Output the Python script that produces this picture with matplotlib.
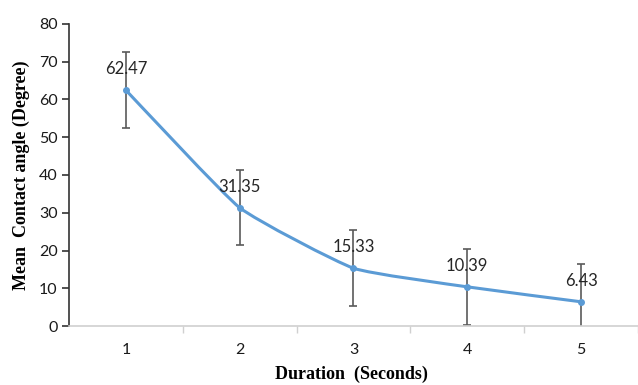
import numpy as np
import matplotlib
matplotlib.use("Agg")
from matplotlib import pyplot as plt
from matplotlib.path import Path
from matplotlib.patches import PathPatch

# data
durations = [1, 2, 3, 4, 5]
mean_angle = [62.47, 31.35, 15.33, 10.39, 6.43]
angle_err = [10, 10, 10, 10, 10]
value_labels = ["62.47", "31.35", "15.33", "10.39", "6.43"]

line_color = "#5B9BD5"
err_color = "#5a5a5a"

fig = plt.figure(figsize=(6.38, 3.85), dpi=100)
ax = fig.add_axes([0.108, 0.153, 0.892, 0.785])

# lightly smoothed line (catmull-rom -> bezier)
x = np.array(durations, dtype=float)
y = np.array(mean_angle, dtype=float)
verts = [(x[0], y[0])]
codes = [Path.MOVETO]
t = 1 / 14
for i in range(len(x) - 1):
    x0, y0 = (x[i - 1], y[i - 1]) if i > 0 else (x[i], y[i])
    x3, y3 = (x[i + 2], y[i + 2]) if i + 2 < len(x) else (x[i + 1], y[i + 1])
    c1 = (x[i] + (x[i + 1] - x0) * t, y[i] + (y[i + 1] - y0) * t)
    c2 = (x[i + 1] - (x3 - x[i]) * t, y[i + 1] - (y3 - y[i]) * t)
    verts += [c1, c2, (x[i + 1], y[i + 1])]
    codes += [Path.CURVE4] * 3
ax.add_patch(PathPatch(Path(verts, codes), fill=False, edgecolor=line_color, lw=2.2, zorder=3))

ax.errorbar(durations, mean_angle, yerr=angle_err, fmt="none", ecolor=err_color,
            elinewidth=1.2, capsize=3, capthick=1.2, zorder=2)
ax.plot(durations, mean_angle, "o", color=line_color, ms=4, zorder=4)

for xi, yi, lab in zip(durations, mean_angle, value_labels):
    ax.annotate(lab, (xi, yi), xytext=(0, 15), textcoords="offset points",
                ha="center", va="center", fontsize=12, family="Lato", color="#262626")

ax.set_xlim(0.5, 5.5)
ax.set_ylim(0, 80)
ax.set_yticks(range(0, 81, 10))
ax.set_xticks(durations)
ax.set_xticks([1.5, 2.5, 3.5, 4.5, 5.5], minor=True)

for sp in ["top", "right"]:
    ax.spines[sp].set_visible(False)
ax.spines["left"].set_color("#333333")
ax.spines["left"].set_linewidth(1.2)
ax.spines["bottom"].set_color("#d0d0d0")
ax.spines["bottom"].set_linewidth(1.2)

ax.tick_params(axis="y", length=5, width=1.2, color="#333333", labelsize=11.5,
               labelcolor="#1a1a1a", pad=3)
ax.tick_params(axis="x", which="major", length=0, labelsize=11.5, labelcolor="#1a1a1a", pad=12)
ax.tick_params(axis="x", which="minor", length=5, width=1, color="#d0d0d0")
for lab in ax.get_xticklabels() + ax.get_yticklabels():
    lab.set_family("Lato")

ax.set_ylabel("Mean  Contact angle (Degree)", family="Liberation Serif", fontweight="bold",
              fontsize=13)
ax.yaxis.set_label_coords(-0.068, 0.5)
ax.set_xlabel("Duration  (Seconds)", family="Liberation Serif", fontweight="bold",
              fontsize=13)
ax.xaxis.set_label_coords(0.496, -0.13)

fig.savefig("out.png", dpi=100)
